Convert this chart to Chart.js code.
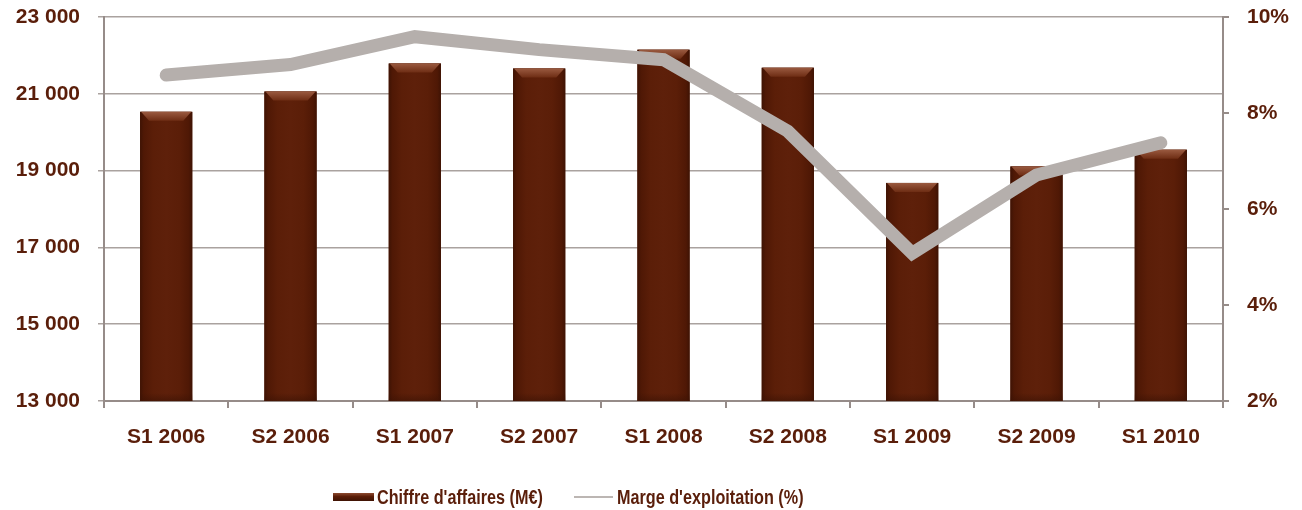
<!DOCTYPE html>
<html>
<head>
<meta charset="utf-8">
<script src="https://cdn.jsdelivr.net/npm/chart.js@4/dist/chart.umd.min.js"></script>
<style>
  html, body { margin: 0; padding: 0; background: #ffffff; }
  #wrap { position: relative; width: 1302px; height: 510px; overflow: hidden; }
  #c { position: absolute; left: 0; top: 0; }
  .lg { position: absolute; font-family: "Liberation Sans", Arial, sans-serif; font-weight: bold; font-size: 20px; color: #5a1e0a; white-space: nowrap; line-height: 24px; transform: scaleX(0.81); transform-origin: 0 50%; }
  .mk { position: absolute; }
</style>
</head>
<body>
<div id="wrap">
  <canvas id="c" width="1302" height="510"></canvas>
  <div class="mk" style="left:333px; top:493px; width:41px; height:8px; background:linear-gradient(#8d4a30,#5a1d07 45%,#3f1304);"></div>
  <div class="lg" style="left:377px; top:485px;">Chiffre d'affaires (M€)</div>
  <div class="mk" style="left:574px; top:496px; width:39px; height:2px; background:#bcb6b3;"></div>
  <div class="lg" style="left:617px; top:485px;">Marge d'exploitation (%)</div>
</div>
<script>
const categories = ["S1 2006","S2 2006","S1 2007","S2 2007","S1 2008","S2 2008","S1 2009","S2 2009","S1 2010"];
const chiffreAffaires = [20530, 21060, 21790, 21660, 22150, 21680, 18680, 19110, 19545];
const margeExploitation = [8.79, 9.01, 9.59, 9.32, 9.11, 7.62, 5.08, 6.71, 7.38];
const leftTicks = [13000, 15000, 17000, 19000, 21000, 23000];
const rightTicks = [2, 4, 6, 8, 10];

const TXT = '#5a1e0a';
const AXIS = '#968c89';
const GRID = '#aaa29f';
const FONT = { family: "'Liberation Sans', Arial, sans-serif", size: 21, weight: 'bold' };

const barStyle = {
  id: 'barStyle',
  afterDatasetDraw(chart, args) {
    if (args.index !== 0) return;
    const ctx = chart.ctx;
    const area = chart.chartArea;
    ctx.save();
    args.meta.data.forEach(bar => {
      const p = bar.getProps(['x', 'y', 'base', 'width'], true);
      const base = Math.min(p.base, area.bottom);
      const l = p.x - p.width / 2, r = p.x + p.width / 2, h = base - p.y;
      const g = ctx.createLinearGradient(l, 0, r, 0);
      g.addColorStop(0, '#3e1304');
      g.addColorStop(0.07, '#4f1805');
      g.addColorStop(0.25, '#5b1e08');
      g.addColorStop(0.5, '#5e200a');
      g.addColorStop(0.75, '#5b1e08');
      g.addColorStop(0.93, '#4f1805');
      g.addColorStop(1, '#3e1304');
      ctx.fillStyle = g;
      ctx.fillRect(l, p.y, p.width, h);
      const bh = 9;
      const tg = ctx.createLinearGradient(0, p.y, 0, p.y + bh);
      tg.addColorStop(0, '#9a5a40');
      tg.addColorStop(1, '#6e2d14');
      ctx.fillStyle = tg;
      ctx.beginPath();
      ctx.moveTo(l + 1, p.y);
      ctx.lineTo(r - 1, p.y);
      ctx.lineTo(r - bh, p.y + bh);
      ctx.lineTo(l + bh, p.y + bh);
      ctx.closePath();
      ctx.fill();
      const bg = ctx.createLinearGradient(0, base - 8, 0, base);
      bg.addColorStop(0, 'rgba(60,18,4,0)');
      bg.addColorStop(1, 'rgba(60,18,4,0.6)');
      ctx.fillStyle = bg;
      ctx.fillRect(l, base - 8, p.width, 8);
    });
    ctx.restore();
  }
};

new Chart(document.getElementById('c'), {
  data: {
    labels: categories,
    datasets: [
      {
        type: 'bar',
        label: "Chiffre d'affaires (M€)",
        data: chiffreAffaires,
        yAxisID: 'y',
        backgroundColor: '#5a1d07',
        borderWidth: 0,
        barPercentage: 0.42,
        categoryPercentage: 1,
        order: 2
      },
      {
        type: 'line',
        label: "Marge d'exploitation (%)",
        data: margeExploitation,
        yAxisID: 'y1',
        borderColor: '#b5afac',
        borderWidth: 13,
        borderCapStyle: 'round',
        borderJoinStyle: 'miter',
        pointRadius: 0,
        pointHoverRadius: 0,
        tension: 0,
        fill: false,
        order: 1
      }
    ]
  },
  options: {
    responsive: false,
    animation: false,
    layout: { padding: { top: 17, bottom: 54, left: 0, right: 0 } },
    plugins: { legend: { display: false }, tooltip: { enabled: false } },
    scales: {
      x: {
        offset: true,
        grid: { display: true, drawOnChartArea: false, drawTicks: true, tickLength: 7, color: AXIS, lineWidth: 2, offset: true },
        border: { color: AXIS, width: 2 },
        ticks: { color: TXT, font: FONT, padding: 17, maxRotation: 0 },
        afterFit(s) { s.height = 55; s.paddingLeft = 0; s.paddingRight = 0; }
      },
      y: {
        position: 'left',
        min: 13000, max: 23000,
        afterBuildTicks(s) { s.ticks = leftTicks.map(v => ({ value: v })); },
        grid: { color: GRID, lineWidth: 1.5, drawTicks: true, tickLength: 6 },
        border: { color: AXIS, width: 2 },
        ticks: {
          color: TXT, font: FONT, padding: 18,
          callback: v => String(v).replace(/\B(?=(\d{3})+(?!\d))/g, ' ')
        },
        afterFit(s) { s.width = 104; s.paddingTop = 0; s.paddingBottom = 0; }
      },
      y1: {
        position: 'right',
        min: 2, max: 10,
        afterBuildTicks(s) { s.ticks = rightTicks.map(v => ({ value: v })); },
        grid: { drawOnChartArea: false, drawTicks: true, tickLength: 6, color: AXIS, lineWidth: 2 },
        border: { color: AXIS, width: 2 },
        ticks: { color: TXT, font: FONT, padding: 18, callback: v => v + '%' },
        afterFit(s) { s.width = 79; s.paddingTop = 0; s.paddingBottom = 0; }
      }
    }
  },
  plugins: [barStyle]
});
</script>
</body>
</html>
